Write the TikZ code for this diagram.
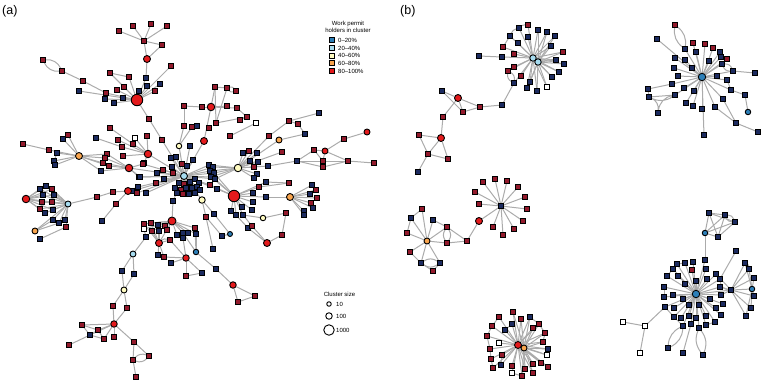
\documentclass[tikz,border=0pt]{standalone}
\usepackage{fontspec}
\setmainfont{Liberation Sans}
\definecolor{cnavy}{HTML}{1C2B60}
\definecolor{csqred}{HTML}{931A2C}
\definecolor{cred}{HTML}{E31A1C}
\definecolor{corange}{HTML}{F9A54E}
\definecolor{cyellow}{HTML}{FFFCC2}
\definecolor{clblue}{HTML}{A6DBEF}
\definecolor{cblue}{HTML}{2C7FB8}
\definecolor{cedge}{HTML}{ABABAB}
\pgfdeclarelayer{bg}
\pgfsetlayers{bg,main}
\tikzset{
  sqb/.style={rectangle,draw=black,line width=1.05pt,minimum size=4.1pt,inner sep=0pt},
  sqn/.style={sqb,fill=cnavy},
  sqr/.style={sqb,fill=csqred},
  sqw/.style={sqb,fill=white},
  clu/.style={circle,draw=black,line width=0.9pt,inner sep=0pt},
  ed/.style={draw=cedge,line width=1pt},
  legtxt/.style={font=\fontsize{6}{7}\selectfont,inner sep=0pt},
  paneltxt/.style={font=\fontsize{12.5}{14}\selectfont,inner sep=0pt},
  legsq/.style={rectangle,draw=black,line width=0.8pt,minimum size=5pt,inner sep=0pt},
  legci/.style={circle,draw=black,line width=0.9pt,fill=white,inner sep=0pt},
}
\newcommand\SQn[3]{\node[sqn] (#1) at (#2,#3) {};}
\newcommand\SQr[3]{\node[sqr] (#1) at (#2,#3) {};}
\newcommand\SQw[3]{\node[sqw] (#1) at (#2,#3) {};}
\newcommand\CLU[5]{\node[clu,fill=#1,minimum size=#5pt] (#2) at (#3,#4) {};}
\begin{document}
\begin{tikzpicture}[x=1pt,y=-1pt]
\useasboundingbox (0,0) rectangle (763,381);
% ================= PANEL A =================
\node[paneltxt,anchor=west] (la) at (2,11) {(a)};
\node[paneltxt,anchor=west] (lb) at (400,11) {(b)};
% top tree
\SQr{a1}{133}{26} \SQr{a2}{151}{24} \SQr{a3}{167}{26} \SQr{a4}{119}{31} \SQr{a5}{144}{41} \SQr{a6}{162}{45}
\CLU{cred}{cA7}{147}{59}{7}
\SQn{a8}{146}{78}
\CLU{cred}{B}{137}{100}{11.5}
\SQr{a9}{43}{60} \SQr{a10}{62}{71} \SQr{a11}{83}{81} \SQr{a12}{106}{93}
\SQn{a13}{79}{91} \SQn{a14}{105}{99} \SQn{a15}{114}{103} \SQn{a16}{123}{98}
\SQr{a17}{110}{73} \SQr{a18}{117}{90} \SQr{a19}{124}{87} \SQr{a20}{129}{77}
\SQn{a21}{139}{91} \SQn{a22}{147}{86} \SQr{a23}{155}{91} \SQn{a24}{160}{84} \SQr{a25}{171}{66}
\SQr{a26}{149}{119} \SQr{a27}{162}{140}
\CLU{clblue}{H}{184}{176}{7}
% region C
\CLU{cred}{cC1}{211}{107}{7.5}
\SQr{c1}{215}{87} \SQr{c2}{227}{88} \SQr{c3}{236}{91}
\SQr{c5}{184}{106} \SQr{c6}{202}{107} \SQr{c7}{227}{106} \SQr{c8}{237}{108} \SQr{c9}{247}{117} \SQw{c10}{256}{123}
\SQr{c12}{184}{126} \SQr{c13}{192}{127} \SQn{c14}{197}{126} \SQr{c15}{209}{128} \SQr{c4}{216}{123} \SQr{c16}{230}{136} \SQr{c17}{240}{120}
\CLU{cred}{cC2}{204}{141}{7}
\CLU{cyellow}{Y1}{179}{146}{5.5}
\SQn{c18}{190}{146}
% region L
\SQr{l1}{23}{144} \SQr{l2}{49}{150} \SQn{l3}{57}{153} \SQn{l4}{63}{139} \SQr{l5}{68}{135} \SQn{l6}{54}{161} \SQn{l7}{55}{165}
\CLU{corange}{lO}{79}{156}{7}
\SQr{l9}{107}{154} \SQr{l10}{105}{158} \SQr{l11}{103}{163} \SQn{l12}{101}{171} \SQr{l13}{109}{166}
\CLU{cred}{rC1}{129}{168}{7.5}
\SQn{l14}{139}{177}
% region M
\SQn{m1}{96}{138} \SQr{m2}{110}{128} \SQr{m3}{118}{140} \SQw{m4}{135}{138} \SQr{m5}{147}{136} \SQr{m6}{122}{147} \SQr{m7}{133}{144} \SQr{m8}{123}{156} \SQr{m9}{144}{163}
\CLU{cred}{rC2}{148}{154}{7.5}
% centre
\SQr{h1}{143}{164} \SQn{h2}{157}{173} \SQr{h3}{163}{170} \SQn{h4}{172}{167} \SQn{h5}{140}{177} \SQr{h6}{156}{183} \SQn{h7}{164}{179} \SQr{h8}{173}{173}
\SQn{h9}{138}{187} \SQn{h10}{132}{191} \SQn{h11}{146}{193} \SQr{h12}{137}{193}
\SQn{h13}{171}{158} \SQn{h14}{176}{157} \SQr{h15}{182}{164} \SQn{h16}{187}{166} \SQn{h17}{193}{160}
\SQn{h19}{209}{165} \SQn{h20}{213}{167} \SQn{h21}{210}{171} \SQn{h22}{214}{173} \SQn{h23}{211}{177} \SQn{h24}{215}{179}
\SQn{h25}{179}{183} \SQr{h26}{184}{184} \SQn{h27}{190}{182} \SQn{h28}{195}{179} \SQn{h29}{199}{183}
\SQn{h30}{175}{188} \SQr{h31}{181}{190} \SQn{h32}{186}{188} \SQn{h33}{192}{188} \SQn{h34}{197}{187}
\SQn{h35}{177}{193} \SQr{h36}{183}{194} \SQn{h37}{189}{194} \SQn{h38}{195}{193} \SQn{h39}{200}{190}
% right
\CLU{cyellow}{Y2}{238}{168}{7.5}
\SQn{r1}{243}{153} \SQr{r2}{249}{151} \SQn{r3}{257}{153} \SQn{r4}{250}{161} \SQn{r5}{258}{162} \SQr{r6}{254}{167} \SQn{r7}{257}{174} \SQn{r8}{254}{178} \SQn{r9}{268}{166}
\SQn{s1}{297}{161} \SQr{s2}{314}{150} \CLU{cred}{rC3}{325}{151}{6} \SQr{s3}{323}{161} \SQr{s4}{323}{167} \SQr{s5}{348}{161} \SQr{s6}{374}{163} \SQr{s7}{344}{139} \CLU{cred}{rC4}{367}{132}{6}
\SQr{t1}{269}{136} \CLU{corange}{tO}{279}{140}{6} \SQr{t2}{289}{121} \SQr{t3}{298}{124} \SQn{t4}{305}{134} \SQn{t5}{319}{113} \SQr{t6}{282}{152}
% big red R
\CLU{cred}{R}{234}{196}{11.5}
\SQn{u1}{253}{193} \SQn{u2}{266}{197} \SQn{u3}{253}{202} \SQn{u4}{242}{207} \SQn{u5}{252}{210} \SQn{u6}{231}{211} \SQn{u7}{236}{215} \SQn{u8}{243}{215}
\SQn{u9}{248}{228} \SQr{u10}{252}{226} \SQr{u11}{259}{187} \SQn{u12}{266}{182} \SQr{u13}{289}{183} \SQr{u14}{210}{185} \SQn{u15}{217}{189}
\CLU{cyellow}{Y3}{202}{200}{6.5}
\SQr{u16}{206}{217} \SQn{u17}{214}{214} \SQn{u18}{222}{236} \SQn{u19}{213}{249}
\CLU{cblue}{bC1}{230}{234}{5}
\CLU{cyellow}{Y4}{263}{218}{5.5}
\CLU{cred}{rC5}{267}{243}{7} \SQr{u20}{282}{235} \SQr{u21}{286}{213}
\CLU{corange}{O2}{290}{197}{7}
\SQn{v1}{312}{185} \SQr{v2}{316}{190} \SQn{v3}{310}{194} \SQr{v4}{317}{198} \SQr{v5}{311}{203} \SQn{v6}{313}{208} \SQn{v7}{304}{211} \SQn{v8}{304}{215}
% left lower
\CLU{cred}{rC6}{26}{199}{7.5}
\SQn{w1}{40}{189} \SQn{w2}{46}{186} \SQr{w3}{52}{189} \SQn{w4}{43}{195} \SQn{w5}{54}{195} \SQr{w6}{42}{202} \SQr{w7}{52}{202} \SQr{w8}{40}{209} \SQn{w9}{53}{210} \SQn{w10}{45}{213}
\CLU{clblue}{LB2}{68}{204}{6}
\SQn{w11}{53}{220} \SQn{w12}{59}{223} \SQn{w13}{65}{220} \SQr{w14}{66}{227}
\CLU{corange}{oC3}{35}{231}{6}
\SQn{w15}{40}{239}
\SQr{x1}{97}{197} \SQr{x2}{113}{192} \CLU{cred}{rC7}{128}{191}{7} \SQr{x3}{116}{204} \SQn{x4}{102}{221}
% bottom middle
\CLU{cred}{rC8}{172}{221}{8}
\SQr{y1}{144}{224} \SQr{y2}{151}{223} \SQn{y3}{158}{225} \SQr{y4}{165}{226} \SQw{y5}{144}{229} \SQr{y6}{152}{231} \SQn{y7}{159}{231} \SQr{y8}{167}{230} \SQn{y9}{173}{201}
\CLU{cred}{rC9}{159}{243}{7}
\SQr{y10}{170}{240} \SQn{y11}{177}{235} \SQn{y12}{183}{233} \SQn{y13}{188}{233} \SQr{y14}{195}{228} \SQn{y15}{196}{234} \SQn{y16}{183}{238}
\CLU{cblue}{bC2}{196}{252}{5.5}
\SQn{y17}{158}{255} \SQr{y18}{164}{257} \SQn{y19}{171}{263} \CLU{cred}{rC10}{186}{258}{6.5} \SQr{y20}{186}{276} \SQn{y21}{202}{273}
\SQn{y22}{216}{269} \CLU{cred}{rC11}{233}{285}{6.5} \SQr{y23}{238}{302} \SQr{y24}{255}{296}
% bottom path
\SQn{z1}{146}{237} \CLU{clblue}{LB3}{133}{254}{6} \SQn{z2}{122}{271} \SQn{z3}{134}{274}
\CLU{cyellow}{Y5}{124}{290}{6} \SQr{z4}{113}{306} \SQr{z5}{127}{308} \CLU{cred}{rC12}{114}{324}{6.5}
\SQr{z6}{82}{325} \SQn{z7}{90}{335} \SQr{z8}{98}{330} \SQr{z9}{104}{339} \SQr{z10}{114}{337} \SQr{z11}{69}{345}
\SQr{z12}{134}{342} \SQr{z13}{133}{360} \SQr{z14}{149}{356} \SQr{z15}{136}{377}
% legends
\node[legtxt,align=center] (lgt) at (348,26.5) {Work permit\\holders in cluster};
\node[legsq,fill=cblue] (lg1) at (332,40) {}; \node[legtxt,anchor=west] (lg1t) at (338,40) {0--20\%};
\node[legsq,fill=clblue] (lg2) at (332,48) {}; \node[legtxt,anchor=west] (lg2t) at (338,48) {20--40\%};
\node[legsq,fill=cyellow] (lg3) at (332,55.5) {}; \node[legtxt,anchor=west] (lg3t) at (338,55.5) {40--60\%};
\node[legsq,fill=corange] (lg4) at (332,63) {}; \node[legtxt,anchor=west] (lg4t) at (338,63) {60--80\%};
\node[legsq,fill=cred] (lg5) at (332,71) {}; \node[legtxt,anchor=west] (lg5t) at (338,71) {80--100\%};
\node[legtxt] (cst) at (339.5,294) {Cluster size};
\node[legci,minimum size=4.5pt] (cs1) at (329,304) {}; \node[legtxt,anchor=west] (cs1t) at (336,304) {10};
\node[legci,minimum size=6.5pt] (cs2) at (329,316) {}; \node[legtxt,anchor=west] (cs2t) at (336,316) {100};
\node[legci,minimum size=10.5pt] (cs3) at (329,330) {}; \node[legtxt,anchor=west] (cs3t) at (336,330) {1000};
% ================= PANEL B =================
\CLU{clblue}{P1}{533}{58}{6.5}
\SQr{p1}{528}{25} \SQn{p2}{519}{28} \SQn{p3}{538}{30} \SQn{p4}{547}{32} \SQn{p5}{510}{36} \SQn{p6}{528}{37} \SQn{p7}{555}{36}
\SQn{p8}{518}{43} \SQn{p9}{551}{46} \SQr{p10}{563}{52} \SQr{p11}{503}{47} \SQr{p12}{514}{54} \SQn{p13}{556}{60} \SQn{p14}{564}{64}
\SQn{p15}{479}{56} \SQn{p16}{502}{57} \SQr{p17}{514}{67} \SQr{p18}{508}{71} \SQr{p19}{521}{76} \SQn{p20}{552}{77} \SQn{p21}{559}{72}
\SQn{p22}{530}{82} \SQn{p23}{514}{83} \SQw{p24}{547}{87} \SQn{p25}{527}{88} \SQn{p26}{537}{91}
\CLU{clblue}{P2}{538}{62}{6.5}
\SQn{q1}{502}{105} \SQr{q2}{480}{107} \SQr{q3}{463}{112} \CLU{cred}{qR}{458}{98}{7} \SQn{q4}{442}{91} \SQr{q5}{443}{117}
\CLU{cred}{qR2}{441}{138}{7} \SQr{q6}{419}{135} \SQr{q7}{428}{154} \SQr{q8}{448}{159} \SQn{q9}{418}{172}
% top right
\CLU{cblue}{B1}{702}{77}{7.5}
\SQr{k1}{675}{25} \SQr{k2}{693}{43} \SQr{k3}{705}{44} \SQr{k4}{713}{48} \SQn{k5}{720}{52} \SQn{k6}{685}{49} \SQn{k7}{657}{39}
\SQn{k8}{696}{52} \SQn{k9}{675}{58} \SQn{k10}{685}{60} \SQn{k11}{721}{57} \SQr{k12}{727}{59} \SQn{k13}{709}{61} \SQn{k14}{674}{68}
\SQn{k15}{692}{68} \SQn{k16}{722}{64} \SQn{k17}{733}{71} \SQn{k18}{755}{73} \SQn{k19}{678}{76} \SQn{k20}{717}{76} \SQn{k21}{727}{80}
\SQn{k22}{672}{84} \SQn{k23}{684}{88} \SQn{k24}{694}{91} \SQn{k25}{648}{89} \SQn{k26}{675}{95} \SQn{k27}{649}{97} \SQn{k28}{731}{90}
\SQn{k29}{723}{99} \SQn{k30}{745}{95} \SQn{k31}{686}{103} \SQn{k32}{693}{106} \SQn{k33}{715}{107} \SQn{k34}{702}{109} \SQn{k35}{658}{113}
\CLU{cblue}{kB}{748}{112}{5.5} \SQn{k36}{736}{123} \SQn{k37}{758}{132} \SQn{k38}{704}{135}
% bottom-left of b
\SQn{S}{501}{206}
\SQr{g1}{475}{192} \SQr{g2}{479}{204} \SQr{g3}{525}{197} \SQr{g4}{527}{209} \SQr{g5}{523}{221} \SQr{g6}{514}{229} \SQr{g7}{503}{235}
\SQr{g8}{493}{227} \SQr{g9}{483}{182} \SQr{g10}{495}{179} \SQr{g11}{507}{181} \SQr{g12}{518}{187}
\CLU{cred}{gR}{479}{221}{7} \SQr{g13}{467}{241} \SQr{g14}{447}{243} \SQr{g15}{447}{227}
\CLU{corange}{gO}{427}{241}{6}
\SQr{g16}{422}{209} \SQn{g17}{411}{218} \SQn{g18}{433}{220} \SQr{g19}{407}{233} \SQr{g20}{410}{252} \SQn{g21}{421}{263} \SQn{g22}{440}{263} \SQr{g23}{433}{271}
% bottom-middle of b
\SQr{e1}{513}{312} \SQr{e2}{499}{317} \SQn{e3}{530}{317} \SQr{e4}{521}{319} \SQr{e5}{539}{324} \SQr{e6}{492}{326} \SQn{e7}{512}{324}
\SQn{e8}{505}{330} \SQr{e9}{533}{328} \SQr{e10}{545}{333} \SQr{e11}{487}{336} \SQw{e12}{499}{343} \SQr{e13}{543}{342} \SQn{e14}{548}{349}
\SQr{e15}{490}{349} \SQr{e16}{502}{355} \SQw{e17}{547}{355} \SQr{e18}{491}{359} \SQr{e19}{541}{363} \SQn{e20}{501}{365} \SQr{e21}{533}{364}
\SQr{e22}{493}{368} \SQr{e23}{512}{366} \SQr{e24}{548}{367} \SQw{e25}{512}{373} \SQr{e26}{525}{369} \SQr{e27}{533}{373} \SQr{e28}{522}{376}
\CLU{cred}{M1}{518}{345}{7}
\CLU{corange}{M2}{524}{348}{6}
% bottom-right of b
\SQn{f1}{673}{269} \SQn{f2}{677}{264} \SQn{f3}{685}{263} \SQn{f4}{693}{262} \SQr{f5}{692}{270} \SQn{fb}{705}{260} \SQn{f7}{706}{269}
\SQn{f8}{667}{276} \SQn{f9}{678}{276} \SQn{f10}{716}{274} \SQn{f11}{720}{279} \SQn{f12}{664}{287} \SQn{f13}{685}{284} \SQn{f14}{696}{281}
\SQn{f15}{707}{279} \SQn{f16}{720}{287} \SQn{f17}{664}{297} \SQn{f18}{673}{295} \SQn{f19}{683}{299} \SQn{f20}{710}{299} \SQn{f21}{721}{295}
\SQn{f22}{665}{307} \SQn{f23}{674}{308} \SQn{f24}{689}{305} \SQn{f25}{699}{305} \SQn{f26}{716}{308} \SQn{f27}{723}{304}
\SQn{f28}{674}{317} \SQn{f29}{681}{318} \SQn{f30}{689}{316} \SQn{f31}{696}{318} \SQn{f32}{706}{316} \SQn{f33}{715}{322} \SQn{f34}{721}{315}
\SQn{f35}{683}{326} \SQn{f36}{691}{324} \SQn{f37}{699}{328} \SQn{f38}{706}{325}
\SQn{f39}{668}{348} \SQn{f40}{683}{353} \SQn{f41}{703}{355}
\SQw{f42}{645}{326} \SQw{f43}{623}{322} \SQw{f44}{640}{353}
\SQn{d1}{709}{213} \SQn{d2}{725}{215} \SQn{d3}{735}{222} \SQn{d4}{718}{237} \CLU{cblue}{D2}{705}{233}{5.5}
\SQn{f45}{736}{251}
\SQn{fh}{731}{290} \SQn{j1}{745}{263} \SQn{j2}{749}{269} \SQn{j3}{754}{278} \SQn{j4}{754}{296} \SQn{j5}{751}{308} \SQn{j6}{746}{316}
\CLU{cblue}{D3}{752}{289}{5.5}
\CLU{cblue}{D}{696}{294}{7.5}
% ================= EDGES =================
\begin{pgfonlayer}{bg}
% panel a
\foreach \a/\b in {a4/a5,a1/a5,a2/a5,a3/a5,a5/a6,a5/cA7,a6/cA7,cA7/a8,a8/B,a10/a11,a11/a12,a12/B,a17/a19,a17/a20,B/a26,a26/a27,a27/H,
  c1/c2,c1/cC1,c2/c4,c1/c4,cC1/c6,cC1/c7,cC1/c8,cC1/cC2,c5/c12,c12/Y1,c4/c9,c17/c9,c16/c10,c8/c9,cC2/H,Y1/H,c18/H,c13/Y1,c6/c5,
  l1/l2,l2/lO,l3/lO,l4/lO,l5/lO,l6/lO,l7/lO,l4/l5,l6/l7,l3/l6,rC1/l14,l14/H,rC1/H,
  m1/m6,m2/m7,m3/rC2,m4/rC2,m5/rC2,m6/rC2,m7/rC2,m8/rC2,m9/rC2,rC2/H,m4/m7,m3/m6,
  h1/m9,h9/rC7,h12/rC7,h10/rC7,h5/rC1,h1/rC1,
  r9/s1,s1/s2,s1/s3,s1/s4,s2/rC3,s2/s3,rC3/s3,rC3/s5,s3/s5,s4/s5,rC3/s7,s7/rC4,s5/s6,
  Y2/t1,t1/t2,t2/t5,t2/t3,t3/t4,t4/tO,tO/Y2,t6/Y2,
  u2/O2,u11/u13,u12/u13,u7/u9,u8/u10,u9/rC5,u10/rC5,Y4/u8,Y4/u21,u20/rC5,u20/u21,H/u14,H/u15,h22/R,h24/R,h23/R,Y3/H,Y3/u16,Y3/u17,u16/u18,u17/bC1,u16/u19,u18/bC1,
  rC6/LB2,LB2/w11,LB2/w12,LB2/w13,LB2/w14,LB2/oC3,w11/oC3,w12/oC3,w14/w15,w13/w12,LB2/x1,x1/x2,x2/rC7,rC7/x3,x3/x4,
  rC8/y9,y9/H,rC8/rC9,rC9/y10,rC9/y17,rC9/y18,y10/rC10,y18/rC10,y19/rC10,rC10/y20,y20/y21,rC10/y21,y12/bC2,y14/bC2,y15/bC2,bC2/y22,y22/rC11,rC11/y23,rC11/y24,y23/y24,y16/rC10,
  y5/z1,z1/LB3,LB3/z2,LB3/z3,z3/Y5,z2/Y5,Y5/z4,Y5/z5,z4/rC12,z5/rC12,rC12/z6,z6/z7,rC12/z7,rC12/z8,rC12/z9,rC12/z10,z7/z9,z8/z9,z7/z11,z6/z8,z7/z8,rC12/z12,z12/z13,z12/z14,z13/z15}
  \draw[ed] (\a) -- (\b);
\foreach \b in {a13,a14,a15,a16,a17,a18,a19,a20,a21,a22,a23,a24,a25} \draw[ed] (B) -- (\b);
\foreach \b in {l9,l10,l11,l12,l13} {\draw[ed] (lO) -- (\b); \draw[ed] (\b) -- (rC1);}
\foreach \b in {h1,h2,h3,h4,h5,h6,h7,h8,h9,h10,h11,h12,h13,h14,h15,h16,h17,h19,h20,h21,h22,h23,h24,h25,h26,h27,h28,h29,h30,h31,h32,h33,h34,h35,h36,h37,h38,h39} \draw[ed] (H) -- (\b);
\foreach \b in {h19,h20,h21,h22,h23,h24} \draw[ed] (\b) -- (Y2);
\foreach \b in {r1,r2,r3,r4,r5,r6,r7,r8,r9} \draw[ed] (Y2) -- (\b);
\foreach \b in {u1,u2,u3,u4,u5,u6,u7,u8,u11,u12,u14,u15} \draw[ed] (R) -- (\b);
\foreach \b in {v1,v2,v3,v4,v5,v6,v7,v8} \draw[ed] (O2) -- (\b);
\foreach \b in {w1,w2,w3,w4,w5,w6,w7,w8,w9,w10} {\draw[ed] (rC6) -- (\b); \draw[ed] (\b) -- (LB2);}
\foreach \b in {y1,y2,y3,y4,y5,y6,y7,y8,y11,y12,y13,y14,y15} \draw[ed] (rC8) -- (\b);
\foreach \b in {y1,y2,y3,y6,y7} \draw[ed] (\b) -- (rC9);
\draw[ed] (a9) to[bend left=35] (a10) (a9) to[bend right=35] (a10);
\draw[ed] (c2) to[bend left=35] (c3) (c2) to[bend right=35] (c3);
\draw[ed] (z13) to[bend left=35] (z14) (z13) to[bend right=35] (z14);
\draw[ed] (rC9) to[bend left=30] (y10);
% panel b
\foreach \b in {p1,p2,p3,p4,p5,p6,p7,p8,p9,p10,p11,p12,p13,p14,p16,p17,p18,p19,p20,p21,p22,p23,p24,p25,p26} \draw[ed] (P1) -- (\b);
\foreach \b in {p3,p4,p7,p9,p10,p13,p14,p20,p21,p22,p24,p25,p26} \draw[ed] (P2) -- (\b);
\foreach \a/\b in {p15/p16,p5/p11,p23/q1,q1/q2,q2/q3,q3/qR,q2/qR,qR/q4,q4/q3,qR/q5,q5/qR2,qR2/q6,qR2/q7,qR2/q8,q6/q7,q7/q8,q7/q9,
  k17/k18,k25/k22,k25/k27,k27/k26,k28/k30,k30/kB,k29/k36,k36/k37,k33/k36,k21/k28,k5/k11,k12/k16,
  S/gR,gR/g13,g13/g14,g13/g15,g16/g17,g18/g15,g20/g21,g21/g23,g22/g23,g17/g19,
  fb/D,fb/D2,d1/d2,d1/d3,d3/d4,d1/d4,d2/d4,f45/f11,fh/D3,fh/D,fh/f16,fh/f21,fh/f10,f22/f42,f42/f43,f42/f44,f36/f40,
  f1/f8,f12/f17,f22/f28,f28/f35,f33/f38,f2/f3}
  \draw[ed] (\a) -- (\b);
\draw[ed] (p2) to[bend right=25] (p5);
\draw[ed] (p1) to[bend right=25] (p2);
\draw[ed] (p18) to[bend left=35] (p23) (p18) to[bend right=35] (p23);
\foreach \b in {k2,k3,k4,k5,k6,k7,k8,k9,k10,k11,k12,k13,k14,k15,k16,k17,k19,k20,k21,k22,k23,k24,k26,k28,k29,k31,k32,k33,k34,k38} \draw[ed] (B1) -- (\b);
\draw[ed] (k1) to[bend left=30] (k6) (k1) to[bend right=30] (k6);
\draw[ed] (k16) to[bend left=35] (k17) (k16) to[bend right=35] (k17);
\draw[ed] (k27) to[bend left=35] (k35) (k35) to[bend left=35] (k26) (k27) to[bend right=30] (k26);
\foreach \b in {g1,g2,g3,g4,g5,g6,g7,g8,g9,g10,g11,g12} \draw[ed] (S) -- (\b);
\foreach \b in {g16,g17,g18,g19,g20,g21,g22,g14,g15} \draw[ed] (gO) -- (\b);
\draw[ed] (g15) to[bend left=35] (g14) (g15) to[bend right=35] (g14);
\draw[ed] (g21) to[bend left=35] (g22) (g21) to[bend right=35] (g22);
\foreach \b in {e1,e2,e3,e4,e5,e6,e7,e8,e9,e10,e11,e12,e13,e14,e15,e16,e17,e18,e19,e20,e21,e22,e23,e24,e25,e26,e27,e28} \draw[ed] (M1) -- (\b);
\foreach \b in {e1,e3,e5,e9,e10,e13,e14,e17,e19,e21,e24,e26,e27,e28,e4} \draw[ed] (M2) -- (\b);
\foreach \a/\b in {e2/e6,e6/e11,e11/e15,e15/e18,e18/e22,e7/e8,e3/e5,e5/e10,e10/e13,e19/e24,e16/e20,e25/e28} \draw[ed] (\a) -- (\b);
\foreach \b in {f1,f2,f3,f4,f5,f7,f8,f9,f10,f11,f12,f13,f14,f15,f16,f17,f18,f19,f20,f21,f22,f23,f24,f25,f26,f27,f28,f29,f30,f31,f32,f33,f34,f35,f36,f37,f38} \draw[ed] (D) -- (\b);
\foreach \b in {d1,d2,d3,d4} \draw[ed] (D2) -- (\b);
\draw[ed] (d2) to[bend left=35] (d3) (d2) to[bend right=35] (d3);
\foreach \b in {j1,j2,j3,j4,j5,j6} {\draw[ed] (fh) -- (\b); \draw[ed] (D3) -- (\b);}
\draw[ed] (j1) to[bend left=35] (j2);
\draw[ed] (fh) to[bend left=40] (f11);
\draw[ed] (f35) to[bend left=30] (f39) (f35) to[bend right=30] (f39);
\draw[ed] (f37) to[bend left=30] (f41) (f37) to[bend right=30] (f41);
\end{pgfonlayer}
\end{tikzpicture}
\end{document}
